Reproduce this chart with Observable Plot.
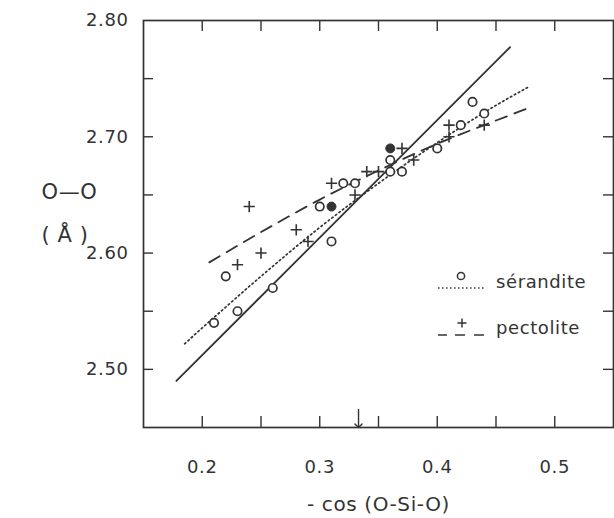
<!DOCTYPE html>
<html><head><meta charset="utf-8">
<script src="https://cdn.jsdelivr.net/npm/d3@7"></script>
<script src="https://cdn.jsdelivr.net/npm/@observablehq/plot@0.6"></script>
<style>
html,body{margin:0;padding:0;background:#fff;}
#wrap{position:relative;width:614px;height:518px;}
#wrap svg text{letter-spacing:0.6px;}
#legend{position:absolute;left:0;top:0;pointer-events:none;font-family:"DejaVu Sans",sans-serif;font-size:18px;}
</style></head><body>
<div id="wrap"></div>
<script>
// sérandite (open circles)
const serX = [0.21,0.22,0.23,0.26,0.30,0.31,0.32,0.33,0.36,0.36,0.37,0.40,0.42,0.43,0.44];
const serY = [2.54,2.58,2.55,2.57,2.64,2.61,2.66,2.66,2.68,2.67,2.67,2.69,2.71,2.73,2.72];
// filled circles
const fillX = [0.31,0.36];
const fillY = [2.64,2.69];
// pectolite (+)
const pecX = [0.23,0.24,0.25,0.28,0.29,0.31,0.33,0.34,0.35,0.37,0.38,0.41,0.41,0.44];
const pecY = [2.59,2.64,2.60,2.62,2.61,2.66,2.65,2.67,2.67,2.69,2.68,2.71,2.70,2.71];
// solid line
const solidX = [0.178,0.462];
const solidY = [2.490,2.777];
// dotted curve (sérandite)
const dotX = [0.185,0.25,0.30,0.35,0.40,0.45,0.478];
const dotY = [2.522,2.580,2.622,2.660,2.695,2.727,2.743];
// dashed curve (pectolite)
const dashX = [0.206,0.25,0.30,0.35,0.40,0.45,0.481];
const dashY = [2.592,2.618,2.646,2.671,2.694,2.714,2.726];
// arrow marker (tetrahedral value)
const arrowX = [0.333];
// ticks
const xMinor = [0.2,0.25,0.3,0.35,0.4,0.45,0.5];
const xLabels = [0.2,0.3,0.4,0.5];
const yMinor = [2.5,2.55,2.6,2.65,2.7,2.75];
const yLabels = [2.5,2.6,2.7,2.8];
const xTitle = "- cos (O-Si-O)";
const yTitle = "O—O\n( Å )";
const legendNames = ["sérandite","pectolite"];

const INK = "#333";
const W = 614, H = 518, mL = 143, mR = 1, mT = 20, mB = 91;
const pw = W - mL - mR, ph = H - mT - mB;
const TL = 11;

const zip = (xs, ys) => xs.map((x, i) => ({x, y: ys[i]}));

const plot = Plot.plot({
  width: W, height: H,
  marginLeft: mL, marginRight: mR, marginTop: mT, marginBottom: mB,
  style: {fontFamily: "DejaVu Sans, sans-serif", fontSize: "18px", color: INK, background: "#fff"},
  x: {domain: [0.15, 0.55]},
  y: {domain: [2.45, 2.80]},
  marks: [
    Plot.frame({stroke: INK, strokeWidth: 1.7}),
    Plot.tickX(xMinor, {x: d => d, insetTop: ph - TL, stroke: INK, strokeWidth: 1.4}),
    Plot.tickX(xMinor, {x: d => d, insetBottom: ph - TL, stroke: INK, strokeWidth: 1.4}),
    Plot.tickY(yMinor, {y: d => d, insetRight: pw - 10, stroke: INK, strokeWidth: 1.4}),
    Plot.tickY(yMinor, {y: d => d, insetLeft: pw - 10, stroke: INK, strokeWidth: 1.4}),
    Plot.axisX(xLabels, {tickSize: 0, tickPadding: 33, tickFormat: d3.format(".1f"), label: null, fill: INK}),
    Plot.axisY(yLabels, {tickSize: 0, tickPadding: 15, tickFormat: d3.format(".2f"), label: null, fill: INK}),
    Plot.text([xTitle], {frameAnchor: "bottom", dy: 83, fontSize: 20, fill: INK}),
    Plot.text([yTitle], {frameAnchor: "left", dx: -102, dy: -17, fontSize: 21, lineHeight: 2.05, fill: INK}),
    Plot.line(zip(solidX, solidY), {x: "x", y: "y", stroke: INK, strokeWidth: 1.8}),
    Plot.line(zip(dotX, dotY), {x: "x", y: "y", curve: "monotone-x", stroke: INK, strokeWidth: 1.7, strokeDasharray: "1.5 3"}),
    Plot.line(zip(dashX, dashY), {x: "x", y: "y", curve: "monotone-x", stroke: INK, strokeWidth: 1.8, strokeDasharray: "12 8"}),
    Plot.vector(arrowX, {x: d => d, frameAnchor: "bottom", length: 18, rotate: 180, anchor: "end", shape: "arrow", stroke: INK, strokeWidth: 1.4}),
    Plot.dot(zip(pecX, pecY), {x: "x", y: "y", symbol: "plus", r: 3.7, stroke: INK, strokeWidth: 1.6}),
    Plot.dot(zip(serX, serY), {x: "x", y: "y", r: 4.2, stroke: INK, fill: "#fff", strokeWidth: 1.7}),
    Plot.dot(zip(fillX, fillY), {x: "x", y: "y", r: 4.5, stroke: INK, fill: INK, strokeWidth: 1})
  ]
});

const wrap = document.getElementById("wrap");
wrap.appendChild(plot);

// legend overlay
const lg = d3.select(wrap).append("svg").attr("id", "legend").attr("width", W).attr("height", H);
const g = lg.append("g").attr("stroke", INK).attr("fill", "none").attr("stroke-width", 1.5);
g.append("line").attr("x1", 438).attr("x2", 486).attr("y1", 288).attr("y2", 288).attr("stroke-dasharray", "1.5 2.5");
g.append("circle").attr("cx", 461).attr("cy", 276).attr("r", 3.6);
[[438, 447], [455, 465], [474, 484]].forEach(([a, b]) => g.append("line").attr("x1", a).attr("x2", b).attr("y1", 335).attr("y2", 335));
g.append("path").attr("d", "M457.5 323H466.5M462 318.5V327.5");
lg.selectAll("text.lab").data(legendNames).join("text")
  .attr("x", 496).attr("y", (d, i) => i === 0 ? 282 : 328)
  .attr("dy", "0.35em").attr("fill", INK).attr("letter-spacing", "0.4px").text(d => d);
</script>
</body></html>
